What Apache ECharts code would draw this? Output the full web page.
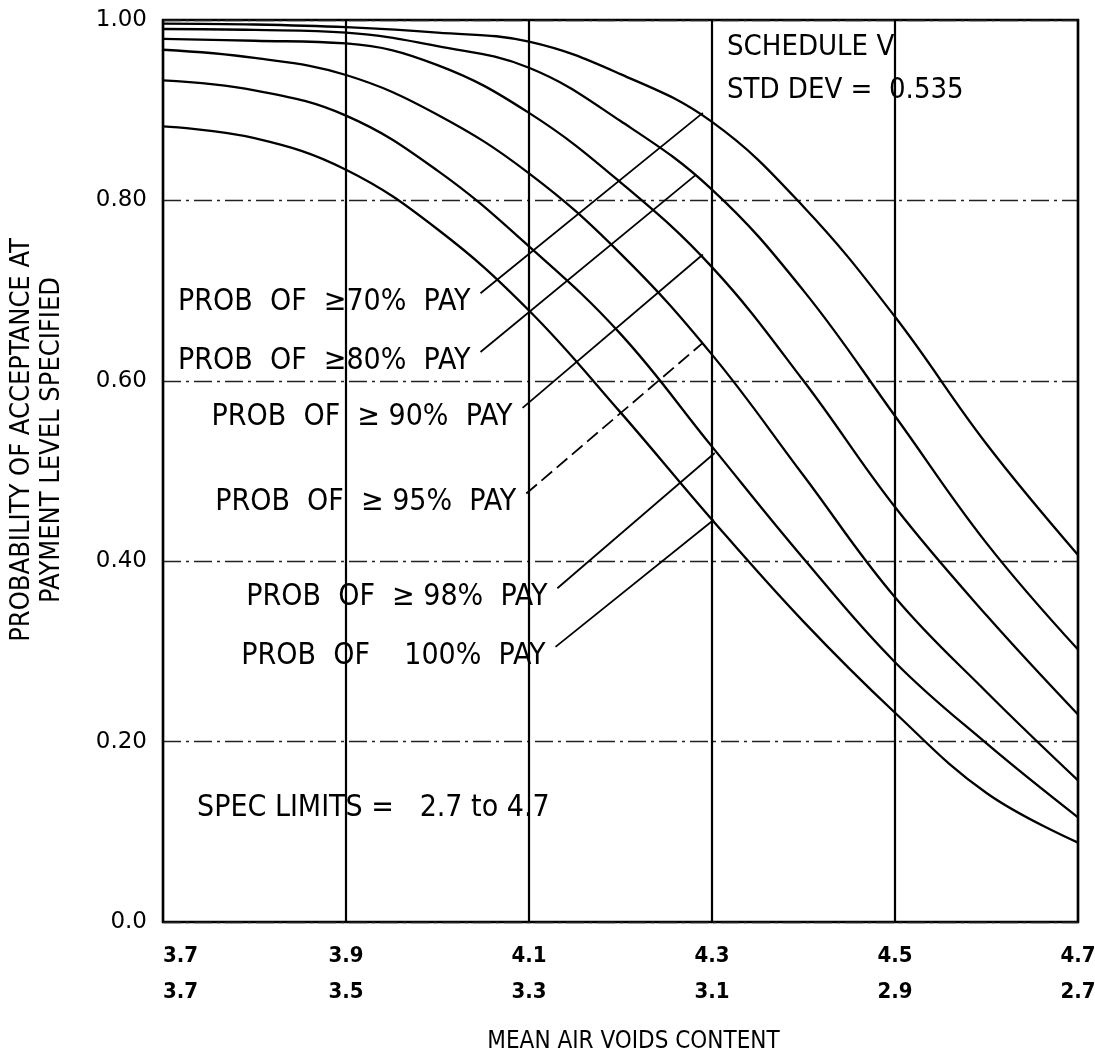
<!DOCTYPE html>
<html>
<head>
<meta charset="utf-8">
<script src="https://cdn.jsdelivr.net/npm/echarts@6/dist/echarts.min.js"></script>
<style>
    html, body { margin: 0; padding: 0; background: #fff; }
    #chart { width: 1095px; height: 1055px; }
</style>
</head>
<body>
<div id="chart"></div>
<script>
// 平均空隙率取样点
const xSamples = [3.7, 3.8, 3.9, 4.0, 4.1, 4.2, 4.3, 4.4, 4.5, 4.6, 4.7];

// 各付款水平的接受概率曲线
const pay70 = [0.996, 0.995, 0.992, 0.986, 0.976, 0.940, 0.887, 0.793, 0.671, 0.530, 0.407];
const pay80 = [0.990, 0.989, 0.986, 0.971, 0.947, 0.888, 0.812, 0.700, 0.561, 0.420, 0.302];
const pay90 = [0.979, 0.977, 0.974, 0.950, 0.897, 0.820, 0.726, 0.600, 0.460, 0.340, 0.230];
const pay95 = [0.967, 0.958, 0.939, 0.895, 0.830, 0.741, 0.629, 0.495, 0.360, 0.255, 0.157];
const pay98 = [0.933, 0.922, 0.894, 0.833, 0.749, 0.652, 0.527, 0.403, 0.288, 0.198, 0.116];
const pay100 = [0.882, 0.869, 0.834, 0.768, 0.678, 0.565, 0.446, 0.333, 0.232, 0.143, 0.088];

// 刻度标签
const upperTicks = ['3.7', '3.9', '4.1', '4.3', '4.5', '4.7'];
const lowerTicks = ['3.7', '3.5', '3.3', '3.1', '2.9', '2.7'];
const yTicks = ['0.0', '0.20', '0.40', '0.60', '0.80', '1.00'];

// 引线标注
const leaderLabels = [
    'PROB  OF  ≥70%  PAY',
    'PROB  OF  ≥80%  PAY',
    'PROB  OF  ≥ 90%  PAY',
    'PROB  OF  ≥ 95%  PAY',
    'PROB  OF  ≥ 98%  PAY',
    'PROB  OF    100%  PAY'
];
const leaderFrom = [[4.047, 0.697], [4.047, 0.632], [4.093, 0.570], [4.097, 0.475], [4.131, 0.370], [4.129, 0.305]];
const leaderTo = [[4.290, 0.897], [4.282, 0.828], [4.290, 0.740], [4.290, 0.642], [4.303, 0.520], [4.302, 0.446]];

const curves = [pay70, pay80, pay90, pay95, pay98, pay100];
const curveNames = ['70%', '80%', '90%', '95%', '98%', '100%'];

const labelFont = "'DejaVu Sans Condensed', 'DejaVu Sans', sans-serif";

document.addEventListener('DOMContentLoaded', () => {
    const chart = echarts.init(document.getElementById('chart'));

    const curveSeries = curves.map((vals, i) => ({
        name: curveNames[i],
        type: 'line',
        smooth: 0.4,
        symbol: 'none',
        data: xSamples.map((x, j) => [x, vals[j]]),
        lineStyle: { color: '#000', width: 2.3 },
        z: 3
    }));

    const leaderSeries = leaderLabels.map((text, i) => ({
        type: 'line',
        symbol: 'circle',
        symbolSize: 0,
        data: [
            {
                value: leaderFrom[i],
                label: {
                    show: true,
                    position: 'left',
                    distance: 10,
                    offset: [0, 9],
                    formatter: text,
                    color: '#000',
                    fontSize: 30,
                    fontFamily: labelFont
                }
            },
            leaderTo[i]
        ],
        lineStyle: {
            color: '#000',
            width: 1.8,
            type: i === 3 ? [14, 6] : 'solid'
        },
        z: 4
    }));

    chart.setOption({
        backgroundColor: '#fff',
        animation: false,
        grid: {
            left: 163,
            right: 17,
            top: 20,
            bottom: 133,
            outerBoundsMode: 'none',
            show: true,
            borderColor: '#000',
            borderWidth: 2.5
        },
        xAxis: {
            type: 'value',
            min: 3.7,
            max: 4.7,
            interval: 0.2,
            name: 'MEAN AIR VOIDS CONTENT',
            nameLocation: 'middle',
            nameGap: 108,
            nameTextStyle: {
                color: '#000',
                fontSize: 24,
                fontFamily: labelFont,
                padding: [0, 0, 0, 26]
            },
            axisLine: { show: false },
            axisTick: { show: false },
            axisLabel: {
                margin: 16,
                color: '#000',
                fontSize: 22,
                fontWeight: 'bold',
                lineHeight: 36,
                fontFamily: labelFont,
                alignMinLabel: 'left',
                formatter: v => {
                    const i = Math.round((v - 3.7) / 0.2);
                    return upperTicks[i] + '\n' + lowerTicks[i];
                }
            },
            splitLine: {
                show: true,
                lineStyle: { color: '#000', width: 2.2 }
            }
        },
        yAxis: {
            type: 'value',
            min: 0,
            max: 1,
            interval: 0.2,
            axisLine: { show: false },
            axisTick: { show: false },
            axisLabel: {
                margin: 16,
                color: '#000',
                fontSize: 23,
                fontFamily: "'DejaVu Sans', sans-serif",
                formatter: v => yTicks[Math.round(v / 0.2)]
            },
            splitLine: {
                show: true,
                lineStyle: { color: '#222', width: 1.4, type: [18, 5, 3, 5] }
            }
        },
        graphic: [
            {
                type: 'text',
                x: 37,
                y: 440,
                rotation: Math.PI / 2,
                style: {
                    text: 'PROBABILITY OF ACCEPTANCE AT\nPAYMENT LEVEL SPECIFIED',
                    align: 'center',
                    verticalAlign: 'middle',
                    lineHeight: 30,
                    fill: '#000',
                    font: "27px 'DejaVu Sans Condensed', 'DejaVu Sans', sans-serif"
                }
            },
            {
                type: 'text',
                left: 727,
                top: 33,
                style: {
                    text: 'SCHEDULE V',
                    fill: '#000',
                    font: "29px 'DejaVu Sans Condensed', 'DejaVu Sans', sans-serif"
                }
            },
            {
                type: 'text',
                left: 727,
                top: 76,
                style: {
                    text: 'STD DEV =  0.535',
                    fill: '#000',
                    font: "29px 'DejaVu Sans Condensed', 'DejaVu Sans', sans-serif"
                }
            },
            {
                type: 'text',
                left: 197,
                top: 793,
                style: {
                    text: 'SPEC LIMITS =   2.7 to 4.7',
                    fill: '#000',
                    font: "30px 'DejaVu Sans Condensed', 'DejaVu Sans', sans-serif"
                }
            }
        ],
        series: curveSeries.concat(leaderSeries)
    });
});
</script>
</body>
</html>
